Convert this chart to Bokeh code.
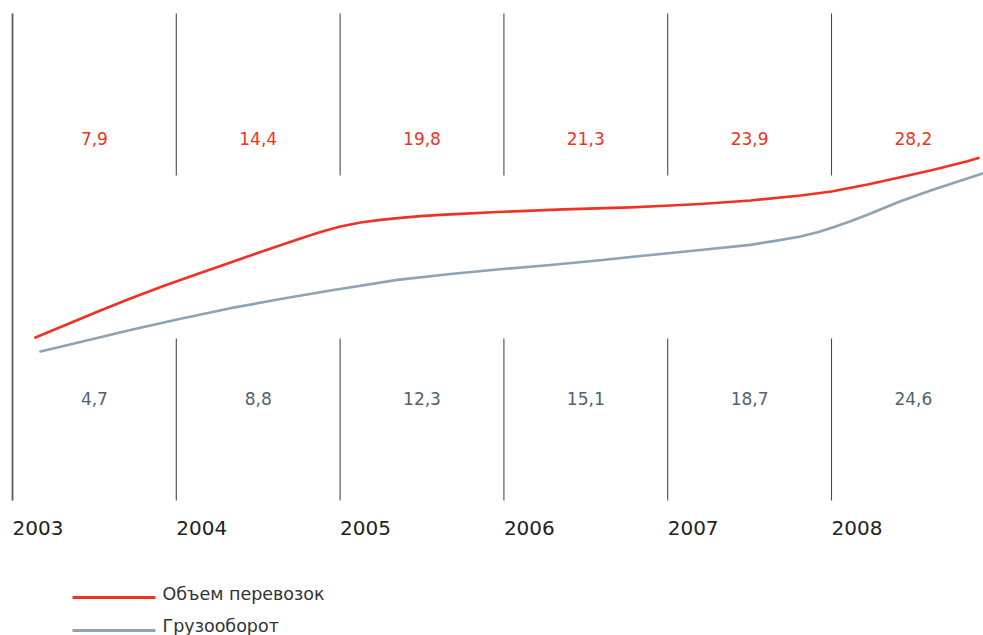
from bokeh.plotting import figure
from bokeh.models import Range1d
from bokeh.core.properties import value
from bokeh.embed import file_html
from bokeh.resources import INLINE

# ---- data ----
years = [2003, 2004, 2005, 2006, 2007, 2008]
year_labels = ["2003", "2004", "2005", "2006", "2007", "2008"]
volume = ["7,9", "14,4", "19,8", "21,3", "23,9", "28,2"]          # Объем перевозок
turnover = ["4,7", "8,8", "12,3", "15,1", "18,7", "24,6"]         # Грузооборот
series_names = ["Объем перевозок", "Грузооборот"]

# smooth trend curves (x in years, y in chart units)
red_x = [2003.140, 2003.537, 2003.720, 2003.922, 2004.129, 2004.331, 2004.532,
         2004.740, 2004.880, 2005.002, 2005.125, 2005.247, 2005.369, 2005.491,
         2005.613, 2005.735, 2005.961, 2006.364, 2006.773, 2006.956, 2007.200,
         2007.505, 2007.811, 2008.000, 2008.220, 2008.421, 2008.623, 2008.830,
         2008.897]
red_y = [298, 325, 337, 349.5, 361.5, 373, 384.5, 396, 403.5, 409, 413, 415.7,
         417.7, 419.3, 420.7, 421.7, 423.5, 426.2, 428.2, 429.5, 431.5, 435,
         440, 444, 451, 458.3, 465.7, 474.3, 477.5]

gray_x = [2003.171, 2003.415, 2003.720, 2004.026, 2004.331, 2004.636, 2004.941,
          2005.350, 2005.674, 2005.961, 2006.285, 2006.571, 2006.895, 2007.200,
          2007.505, 2007.658, 2007.811, 2007.915, 2008.012, 2008.116, 2008.220,
          2008.421, 2008.623, 2008.922]
gray_y = [284, 293.5, 305.5, 316.7, 327.3, 336.5, 345, 355.7, 361.5, 366,
          370.5, 375, 380.5, 385.5, 390.7, 394.7, 399, 403.2, 408.3, 414.2,
          420.7, 434.3, 446, 462]

RED = "#ee3325"
GRAY = "#8fa3b0"
GRAY_TXT = "#4e6273"
FONT = "DejaVu Sans"

W, H = 983, 635
PX_PER_YEAR = 163.8
x0 = 2003 - 12 / PX_PER_YEAR


def sx(px):
    return x0 + px / PX_PER_YEAR


def sy(py):
    return H - py


p = figure(width=W, height=H, output_backend="svg", toolbar_location=None,
           x_range=Range1d(x0, x0 + W / PX_PER_YEAR), y_range=Range1d(0, H),
           x_axis_location=None, y_axis_location=None, min_border=0,
           outline_line_color=None, background_fill_color="white",
           border_fill_color="white")
p.grid.visible = False

# vertical dividers
n = len(years) - 1
p.segment(x0=[years[0]], y0=[sy(500)], x1=[years[0]], y1=[sy(13)],
          line_color="#5a5a5a", line_width=1.8)
p.segment(x0=years[1:], y0=[sy(175)] * n, x1=years[1:], y1=[sy(13)] * n,
          line_color="#4a4a4a", line_width=1.1)
p.segment(x0=years[1:], y0=[sy(500)] * n, x1=years[1:], y1=[sy(338)] * n,
          line_color="#4a4a4a", line_width=1.1)

mid = [y + 0.5 for y in years]
p.text(x=mid, y=[sy(138)] * 6, text=volume, text_color=RED,
       text_font=value(FONT), text_font_size="17px",
       text_align="center", text_baseline="middle")
p.text(x=mid, y=[sy(398)] * 6, text=turnover, text_color=GRAY_TXT,
       text_font=value(FONT), text_font_size="17px",
       text_align="center", text_baseline="middle")
p.text(x=years, y=[sy(527)] * 6, text=year_labels, text_color="#222222",
       text_font=value(FONT), text_font_size="20px",
       text_align="left", text_baseline="middle")

p.line(red_x, red_y, line_color=RED, line_width=2.7, line_cap="round",
       line_join="round")
p.line(gray_x, gray_y, line_color=GRAY, line_width=2.7, line_cap="round",
       line_join="round")

# legend (drawn manually)
p.segment(x0=[sx(72), sx(72)], y0=[sy(597), sy(630)],
          x1=[sx(155), sx(155)], y1=[sy(597), sy(630)],
          line_color=[RED, GRAY], line_width=3)
p.text(x=[sx(162), sx(162)], y=[sy(593), sy(625)], text=series_names,
       text_color="#333333", text_font=value(FONT), text_font_size="17.5px",
       text_align="left", text_baseline="middle")

open("out.html", "w").write(file_html(p, INLINE))
